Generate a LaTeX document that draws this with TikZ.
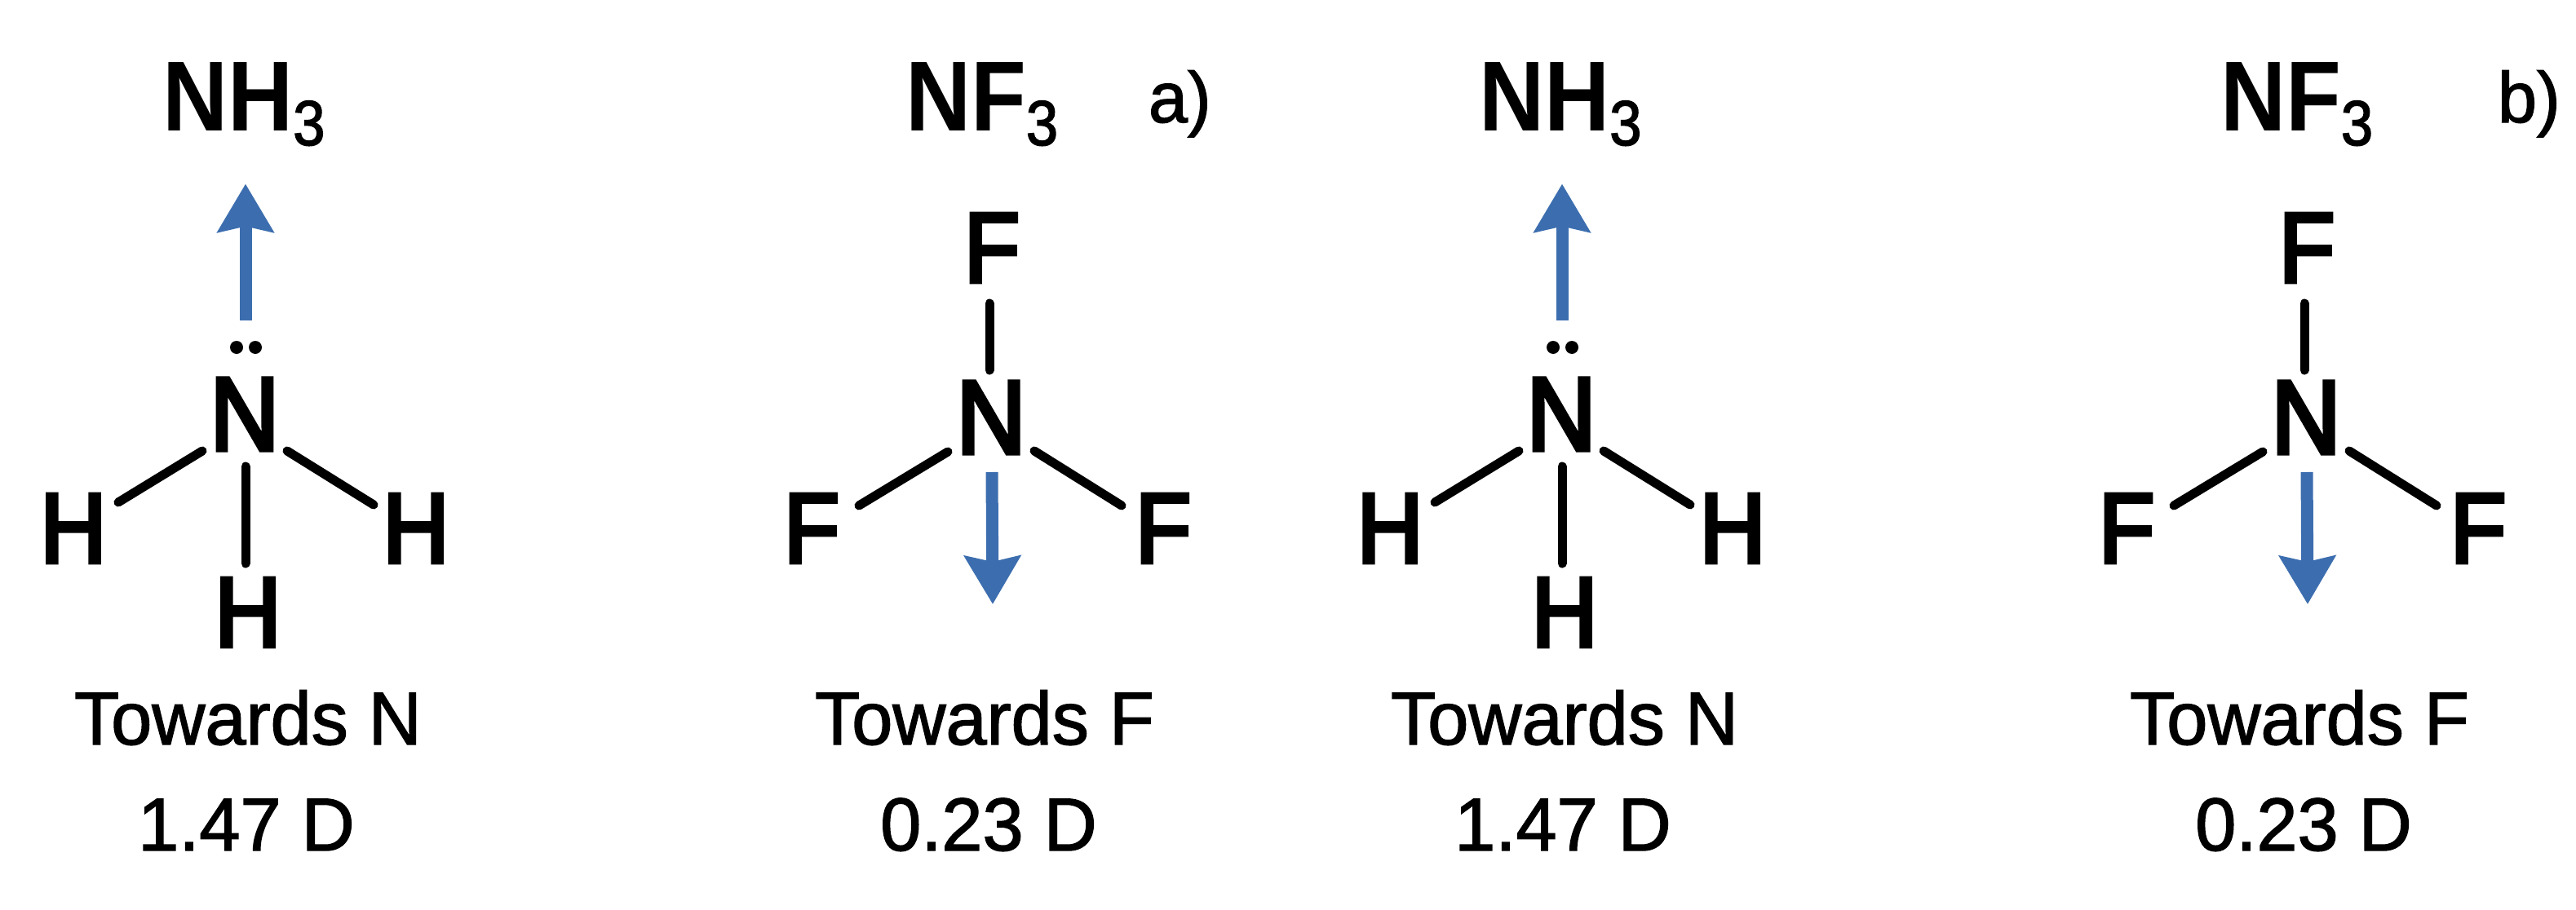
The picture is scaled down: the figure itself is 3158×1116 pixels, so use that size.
\documentclass[tikz,border=0pt]{standalone}
\usepackage{fontspec}
\usetikzlibrary{arrows.meta}
\setmainfont{Liberation Sans}
\newfontfamily\atomfam[FakeBold=4,FakeStretch=0.92]{Liberation Sans}
\newfontfamily\titlefam[FakeStretch=0.91]{Liberation Sans Bold}
\newfontfamily\subfam[FakeBold=2,FakeStretch=0.9]{Liberation Sans}
\newfontfamily\capfam[FakeBold=1.5,FakeStretch=0.98]{Liberation Sans}
\definecolor{dipole}{RGB}{60,110,175}
\tikzset{
  x=1pt,y=-1pt,
  atom/.style={inner sep=0pt,outer sep=0pt,anchor=base,font=\atomfam\fontsize{122}{122}\selectfont},
  centrum/.style={inner sep=0pt,outer sep=0pt,anchor=base,font=\atomfam\fontsize{128}{128}\selectfont},
  formula/.style={inner sep=0pt,outer sep=0pt,anchor=base west,font=\titlefam\fontsize{122}{122}\selectfont},
  caption/.style={inner sep=0pt,outer sep=0pt,anchor=base,font=\capfam\fontsize{92}{92}\selectfont},
  panel/.style={inner sep=0pt,outer sep=0pt,anchor=base west,font=\capfam\fontsize{88}{88}\selectfont},
  bond/.style={draw=black,line width=11pt,line cap=round},
  dipolearrow/.style={draw=dipole,line width=15pt,-{Stealth[length=59pt,width=68pt,inset=7pt]}},
  lonepair/.style={circle,fill=black,minimum size=16pt,inner sep=0pt,outer sep=0pt}
}
\newcommand{\subthree}{\raisebox{-18pt}{\subfam\fontsize{78}{78}\selectfont 3}}
% #1 name prefix, #2 horizontal offset
\newcommand{\ammonia}[2]{%
  \begin{scope}[shift={(#2,0)}]
    \node[formula] (#1title) at (199,160) {NH\subthree};
    \node[centrum] (#1N) at (300,552) {N};
    \node[atom] (#1Hl) at (90,690) {H};
    \node[atom] (#1Hr) at (510,690) {H};
    \node[atom] (#1Hb) at (304,793) {H};
    \node[lonepair] (#1dl) at (290,426) {};
    \node[lonepair] (#1dr) at (313,426) {};
    \coordinate (#1from) at (301,393);
    \coordinate (#1to) at (301,225.5);
    \node[caption] (#1dir) at (304,913) {Towards N};
    \node[caption] (#1mom) at (302,1043) {1.47 D};
  \end{scope}
  \draw[dipolearrow] (#1from) -- (#1to);
  \draw[bond] ([shift={(-52,1)}]#1N.base) -- ([shift={(55,-74)}]#1Hl.base);
  \draw[bond] ([shift={(52,1)}]#1N.base) -- ([shift={(-52,-71)}]#1Hr.base);
  \draw[bond] ([shift={(1,20)}]#1N.base) -- ([shift={(-3,-102)}]#1Hb.base);
}
% #1 name prefix, #2 horizontal offset, #3 tag text, #4 tag x
\newcommand{\trifluoride}[4]{%
  \begin{scope}[shift={(#2,0)}]
    \node[formula] (#1title) at (1110,160) {NF\subthree};
    \node[centrum] (#1N) at (1215,556) {N};
    \node[atom] (#1Ft) at (1216,346) {F};
    \node[atom] (#1Fl) at (995,690) {F};
    \node[atom] (#1Fr) at (1426,690) {F};
    \coordinate (#1from) at (1216,579);
    \coordinate (#1to) at (1217,741);
    \node[caption] (#1dir) at (1207,913) {Towards F};
    \node[caption] (#1mom) at (1212,1043) {0.23 D};
    \node[panel] (#1tag) at (#4,150) {#3};
  \end{scope}
  \draw[dipolearrow] (#1from) -- (#1to);
  \draw[bond] ([shift={(-2,-102)}]#1N.base) -- ([shift={(-3,26)}]#1Ft.base);
  \draw[bond] ([shift={(-53,-2)}]#1N.base) -- ([shift={(58,-70)}]#1Fl.base);
  \draw[bond] ([shift={(53,-3)}]#1N.base) -- ([shift={(-51,-70)}]#1Fr.base);
}
\begin{document}
\begin{tikzpicture}
  \useasboundingbox[fill=white] (0,0) rectangle (3158,1116);
  \ammonia{a}{0}
  \trifluoride{b}{0}{a)}{1408}
  \ammonia{c}{1614}
  \trifluoride{d}{1612}{b)}{1450}
\end{tikzpicture}
\end{document}
